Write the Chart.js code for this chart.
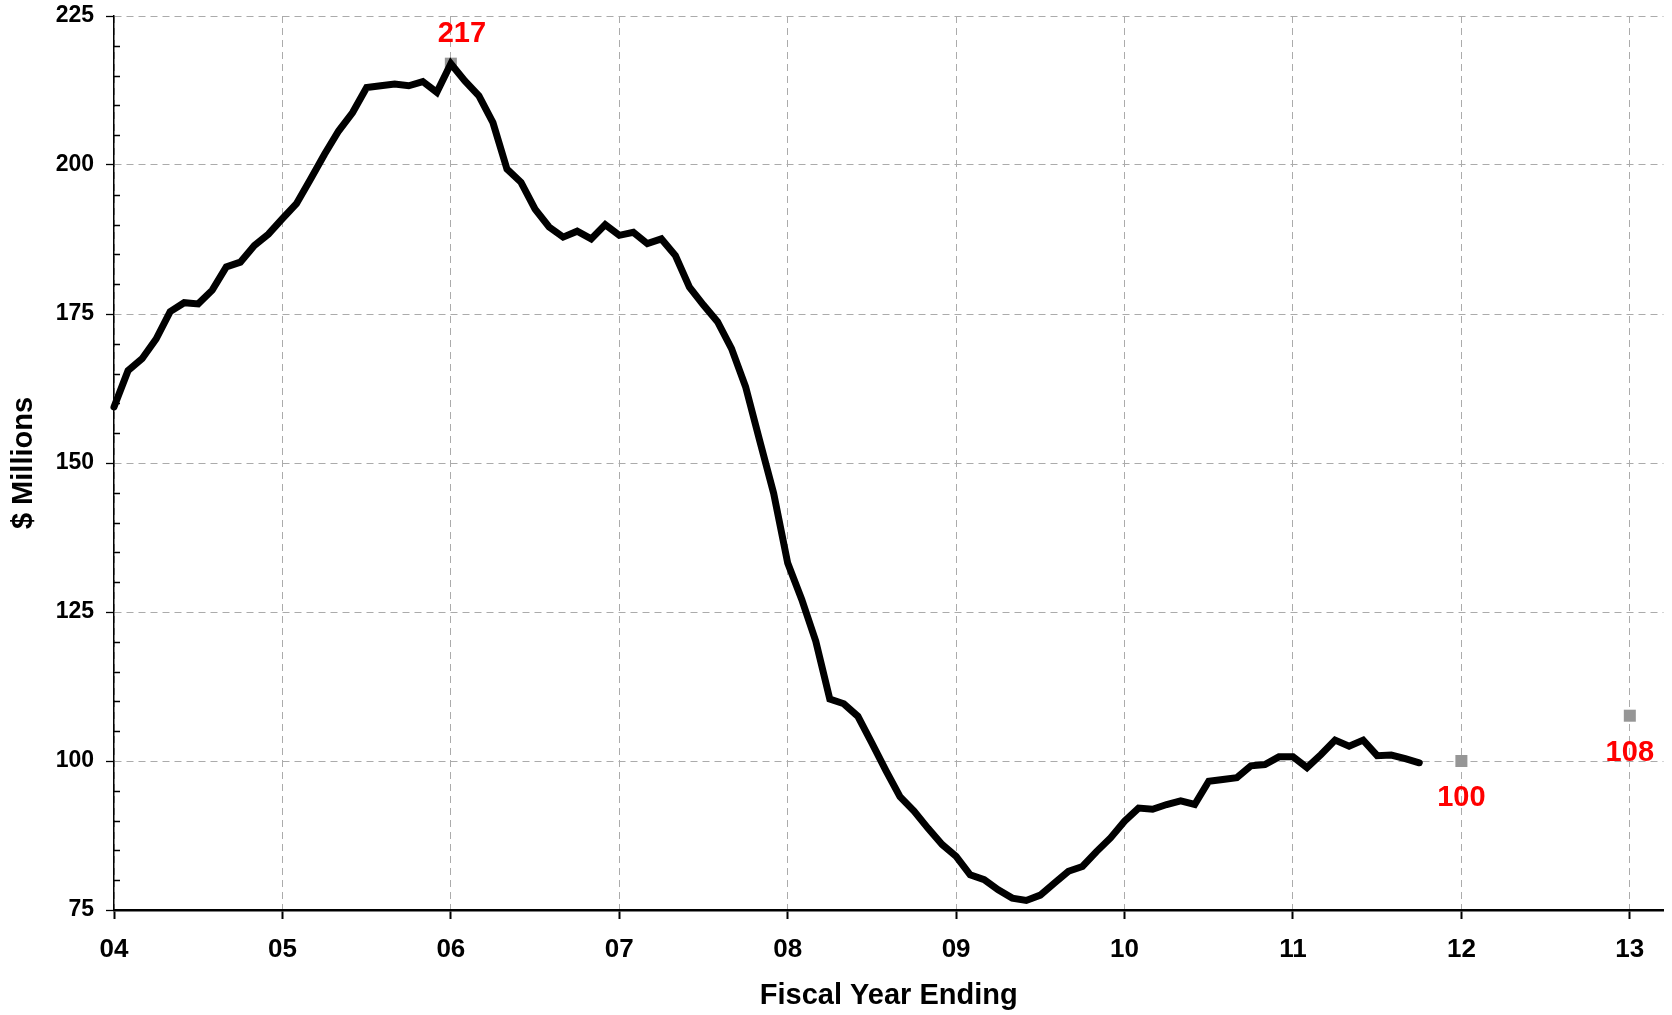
<!DOCTYPE html>
<html>
<head>
<meta charset="utf-8">
<title>Fiscal Year Ending</title>
<script src="https://cdn.jsdelivr.net/npm/chart.js@4.4.1/dist/chart.umd.min.js"></script>
<style>
  html, body { margin: 0; padding: 0; background: #fff; }
  canvas { display: block; }
</style>
</head>
<body>
<canvas id="chart" width="1672" height="1015"></canvas>
<script>
// Monthly values ($ millions), first point is the start of FY 04
const firstYear = 4;
const monthlyValues = [
  159.4, 165.5, 167.5, 170.8, 175.4, 176.9, 176.7, 179.0, 182.9, 183.7, 186.5, 188.4,
  191.0, 193.5, 197.6, 201.8, 205.7, 208.8, 213.0, 213.3, 213.6, 213.3, 214.0, 212.2,
  217.0, 214.1, 211.6, 207.1, 199.3, 197.1, 192.6, 189.6, 187.9, 188.9, 187.6, 190.0,
  188.2, 188.7, 186.8, 187.6, 184.8, 179.5, 176.5, 173.7, 169.2, 162.8, 153.8, 144.9,
  133.2, 127.1, 120.1, 110.4, 109.6, 107.5, 103.0, 98.4, 94.0, 91.6, 88.7, 86.0,
  84.0, 80.9, 80.1, 78.4, 77.0, 76.6, 77.5, 79.5, 81.5, 82.3, 84.8, 87.1,
  89.9, 92.1, 91.9, 92.7, 93.3, 92.7, 96.6, 96.9, 97.2, 99.2, 99.4, 100.7,
  100.7, 98.9, 101.1, 103.5, 102.5, 103.5, 100.9, 101.0, 100.4, 99.7
];

// highlighted points (peak and the two estimates)
const markerYears = [6, 12, 13];
const markerValues = [217, 100, 107.6];
const markerLabels = ['217', '100', '108'];

// axis ticks
const xTickValues = [4, 5, 6, 7, 8, 9, 10, 11, 12, 13];
const xTickLabels = ['04', '05', '06', '07', '08', '09', '10', '11', '12', '13'];
const yMin = 75, yMax = 225, yStep = 25, yMinorStep = 5;

const FONT = "'Liberation Sans', Arial, sans-serif";
Chart.defaults.font.family = FONT;
Chart.defaults.color = '#000';

const linePoints = monthlyValues.map((v, i) => ({ x: firstYear + i / 12, y: v }));
const markerPoints = markerYears.map((yr, i) => ({ x: yr, y: markerValues[i] }));

// red value labels next to the grey markers
const markerLabelPlugin = {
  id: 'markerLabels',
  afterDatasetsDraw(chart) {
    const meta = chart.getDatasetMeta(1);
    const ctx = chart.ctx;
    ctx.save();
    ctx.font = 'bold 29px ' + FONT;
    ctx.fillStyle = '#ff0000';
    ctx.textAlign = 'center';
    ctx.textBaseline = 'middle';
    meta.data.forEach((pt, i) => {
      // the peak label sits above its marker, the others below
      if (i === 0) {
        ctx.fillText(markerLabels[i], pt.x + 11, pt.y - 30);
      } else {
        ctx.fillText(markerLabels[i], pt.x, pt.y + 37);
      }
    });
    ctx.restore();
  }
};

// short minor ticks on the inside of the y axis
const minorTickPlugin = {
  id: 'minorTicks',
  afterDraw(chart) {
    const y = chart.scales.y;
    const ctx = chart.ctx;
    ctx.save();
    ctx.strokeStyle = '#000';
    ctx.lineWidth = 1.3;
    ctx.beginPath();
    for (let v = yMin + yMinorStep; v < yMax; v += yMinorStep) {
      if (v % yStep === 0) continue;
      const py = Math.round(y.getPixelForValue(v)) + 0.5;
      ctx.moveTo(y.right, py);
      ctx.lineTo(y.right + 6, py);
    }
    ctx.stroke();
    ctx.restore();
  }
};

new Chart(document.getElementById('chart'), {
  type: 'line',
  data: {
    datasets: [
      {
        data: linePoints,
        borderColor: '#000',
        borderWidth: 7,
        borderJoinStyle: 'miter',
        borderCapStyle: 'round',
        pointRadius: 0,
        tension: 0,
        fill: false,
        clip: false
      },
      {
        data: markerPoints,
        showLine: false,
        pointStyle: 'rect',
        pointRadius: 8.5,
        pointBackgroundColor: '#969696',
        pointBorderWidth: 0,
        clip: false
      }
    ]
  },
  options: {
    responsive: false,
    animation: false,
    devicePixelRatio: 1,
    layout: { padding: { top: 16, right: 0, bottom: 0, left: 0 } },
    plugins: {
      legend: { display: false },
      tooltip: { enabled: false }
    },
    scales: {
      x: {
        type: 'linear',
        min: 4,
        max: 13.2,
        afterBuildTicks: (scale) => {
          scale.ticks = xTickValues.map(v => ({ value: v }));
        },
        afterFit: (scale) => {
          scale.height = 105;
          scale.paddingLeft = 0;
          scale.paddingRight = 0;
        },
        ticks: {
          callback: (value, index) => xTickLabels[index],
          font: { size: 26, weight: 'bold' },
          padding: 15,
          maxRotation: 0
        },
        grid: {
          color: '#ababab',
          lineWidth: 1,
          tickLength: 9,
          tickColor: '#000',
          tickWidth: 2
        },
        border: { color: '#000', width: 2.5, dash: [7, 5] },
        title: {
          display: true,
          text: 'Fiscal Year Ending',
          font: { size: 29, weight: 'bold' },
          padding: { top: 0, bottom: 2 }
        }
      },
      y: {
        min: yMin,
        max: yMax,
        afterFit: (scale) => {
          scale.width = 114;
          scale.paddingTop = 0;
          scale.paddingBottom = 0;
        },
        ticks: {
          stepSize: yStep,
          font: { size: 23, weight: 'bold' },
          padding: 12
        },
        grid: {
          color: '#ababab',
          lineWidth: 1,
          tickLength: 8,
          tickColor: '#000',
          tickWidth: 1.3
        },
        border: { color: '#000', width: 1.5, dash: [7, 5] },
        title: {
          display: true,
          text: '$ Millions',
          font: { size: 29, weight: 'bold' },
          padding: { top: 7, bottom: 0 }
        }
      }
    }
  },
  plugins: [markerLabelPlugin, minorTickPlugin]
});
</script>
</body>
</html>
